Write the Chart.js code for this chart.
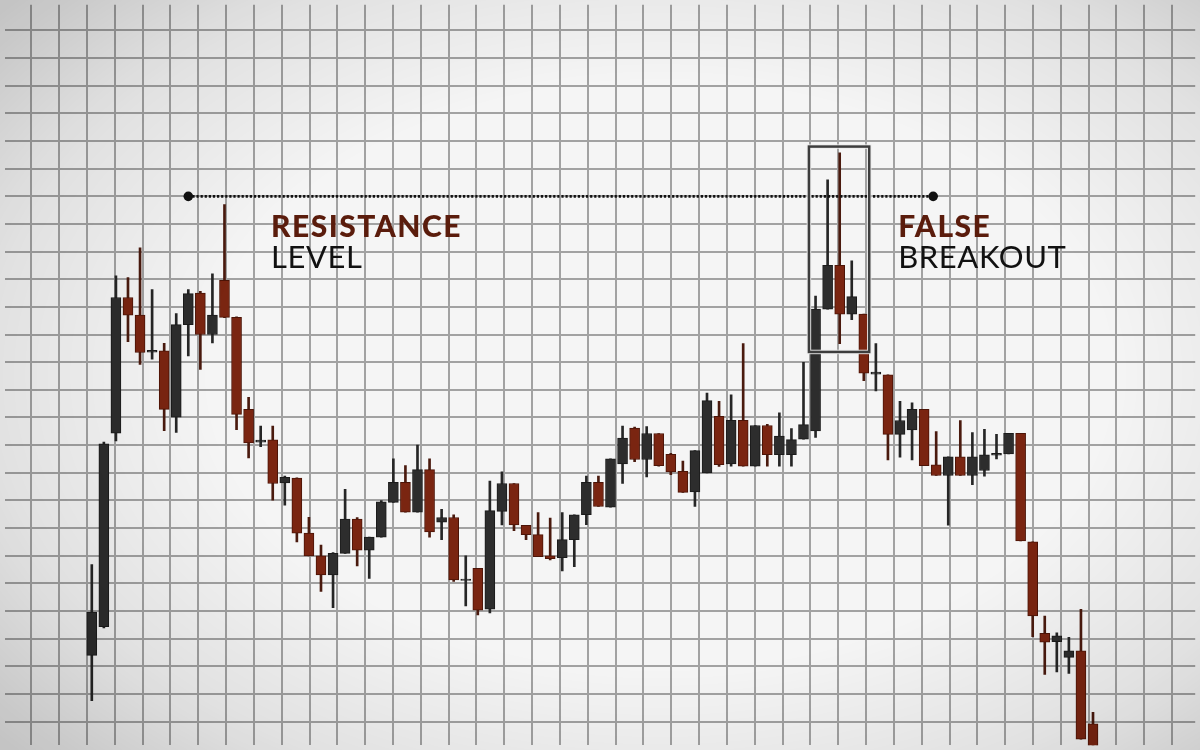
<!DOCTYPE html>
<html><head><meta charset="utf-8">
<script src="https://cdn.jsdelivr.net/npm/chart.js@4.4.1/dist/chart.umd.min.js"></script>
<style>
html,body{margin:0;padding:0;background:#f4f4f4;}
#wrap{position:relative;width:1200px;height:750px;background:#f5f5f5;overflow:hidden;}
#c{position:absolute;left:0;top:0;width:1200px;height:750px;}
#vig{position:absolute;left:0;top:0;width:1200px;height:750px;pointer-events:none;
background:radial-gradient(ellipse 72% 75% at 55% 50%, rgba(0,0,0,0) 52%, rgba(0,0,0,0.08) 78%, rgba(0,0,0,0.2) 100%);}
</style></head><body>
<div id="wrap"><canvas id="c" width="1200" height="750"></canvas><div id="vig"></div></div>
<script>
// ---- data (price units) ----
const opens = [123.9,134.3,204.3,253.4,247.0,233.6,234.1,210.1,243.6,255.0,
  240.0,259.6,246.2,212.9,201.1,201.9,186.3,188.1,168.2,159.9,
  153.0,160.8,173.2,162.0,166.7,179.3,186.5,175.7,191.1,172.1,
  173.8,151.0,155.4,140.6,176.0,186.1,171.0,167.6,159.9,159.3,
  165.8,174.8,186.5,177.5,193.2,206.2,194.8,204.2,196.7,190.5,
  183.1,189.9,210.4,193.2,209.0,192.4,207.1,196.5,196.5,202.1,
  205.1,249.2,265.0,247.4,247.4,225.7,225.4,203.9,205.5,212.9,
  192.9,189.0,195.8,189.0,190.8,196.4,196.8,204.3,165.0,131.9,
  128.9,123.2,125.6,99.2];
const highs = [156.8,201.1,261.2,260.6,271.4,256.3,236.8,247.6,256.3,255.6,
  262.0,287.0,246.4,217.3,206.9,206.9,188.8,188.2,173.9,163.8,
  161.1,184.0,173.8,166.7,179.9,195.0,192.6,200.0,195.0,176.8,
  174.8,159.9,155.4,187.0,190.3,186.1,171.0,175.6,173.6,175.6,
  174.8,188.8,188.8,195.0,206.9,206.5,206.7,204.2,197.0,194.2,
  198.0,218.8,215.8,218.2,236.7,207.1,207.5,211.7,206.0,229.9,
  253.9,296.0,305.7,266.7,247.4,236.7,225.4,215.8,215.3,212.9,
  204.9,195.8,208.9,204.5,205.7,203.9,204.3,204.3,165.0,138.1,
  132.1,130.5,140.6,103.3];
const lows = [107.5,133.9,201.5,237.4,229.2,231.1,205.2,204.6,232.3,227.4,
  237.0,246.1,205.6,195.4,199.4,180.1,178.3,165.0,159.9,147.1,
  141.2,160.8,156.3,151.8,166.7,179.3,175.7,175.7,166.7,165.8,
  150.7,141.8,138.6,139.3,171.1,169.0,165.8,159.6,158.5,154.5,
  156.0,171.2,177.8,177.5,186.1,194.0,188.5,192.4,189.3,182.9,
  177.8,189.9,192.3,192.4,192.4,192.4,192.4,192.4,192.4,202.1,
  202.8,249.2,236.7,245.4,223.3,219.6,194.6,195.6,194.6,192.6,
  189.0,171.0,189.0,185.7,188.8,195.0,196.8,165.3,130.7,117.0,
  117.9,117.4,93.6,86.1];
const closes = [139.6,200.5,253.4,247.0,233.5,234.3,212.9,243.6,254.8,240.0,
  247.0,246.2,211.1,200.8,201.8,186.1,188.3,168.1,159.9,153.0,
  160.8,173.2,162.0,166.7,179.5,186.5,175.7,191.1,168.6,173.8,
  151.2,151.5,140.3,176.3,186.1,171.1,167.6,159.6,158.9,165.8,
  174.8,186.5,177.8,195.0,202.5,194.8,204.2,192.6,190.3,182.9,
  198.0,216.1,192.9,209.0,192.4,207.1,196.5,203.3,202.0,207.4,
  249.2,265.0,247.4,253.7,226.0,226.4,203.9,208.9,212.9,192.6,
  189.0,195.8,189.0,195.8,196.5,197.0,204.3,165.3,138.2,128.7,
  131.0,125.6,93.6,86.1];

// resistance level (dotted line between two candle positions)
const resistanceLevel = 290;
const resistanceFrom = [8];
const resistanceTo = [69.75];
// false breakout box: candle range and price range
const boxCandles = [60, 64];
const boxPrices = [233.7, 308];
// annotation texts
const labelBold = ['RESISTANCE', 'FALSE'];
const labelRegular = ['LEVEL', 'BREAKOUT'];
const labelAt = [14.85, 66.85];
const labelPrice = 275.4;

// ---- styling ----
const UP = '#2d2d2d', UP_EDGE = '#1b1b1b';
const DOWN = '#7a2511', DOWN_EDGE = '#4c1407';
const isUp = opens.map((o, i) => closes[i] >= o);

const bodies = opens.map((o, i) => ({x: i, y: [o, closes[i]]}));
const wicks = opens.map((o, i) => ({x: i, y: [lows[i], highs[i]]}));

const overlay = {
  id: 'overlay',
  afterDatasetsDraw(chart) {
    const {ctx, scales: {x, y}} = chart;
    // breakout box
    const l = x.getPixelForValue(boxCandles[0] - 0.55);
    const r = x.getPixelForValue(boxCandles[1] + 0.45);
    const t = y.getPixelForValue(boxPrices[1]);
    const b = y.getPixelForValue(boxPrices[0]);
    ctx.save();
    ctx.strokeStyle = 'rgba(235,235,235,0.9)';
    ctx.lineWidth = 4.5;
    ctx.strokeRect(l, t, r - l, b - t);
    ctx.strokeStyle = '#3d3d3d';
    ctx.lineWidth = 2.5;
    ctx.strokeRect(l, t, r - l, b - t);
    // labels
    ctx.textBaseline = 'alphabetic';
    ctx.textAlign = 'left';
    for (let k = 0; k < labelBold.length; k++) {
      const px = x.getPixelForValue(labelAt[k]);
      const py = y.getPixelForValue(labelPrice);
      ctx.fillStyle = '#5a1c0c';
      ctx.font = '900 30px Lato';
      ctx.letterSpacing = '1.5px';
      ctx.fillText(labelBold[k], px, py);
      ctx.fillStyle = '#111111';
      ctx.font = '400 31px Lato';
      ctx.letterSpacing = '0.6px';
      ctx.fillText(labelRegular[k], px, py + 31.5);
    }
    ctx.restore();
  }
};

new Chart(document.getElementById('c'), {
  type: 'bar',
  data: {
    datasets: [
      {
        type: 'line',
        data: [{x: resistanceFrom[0], y: resistanceLevel}, {x: resistanceTo[0], y: resistanceLevel}],
        borderColor: '#111', borderWidth: 2.6, borderDash: [2.2, 1.9],
        pointRadius: 4.8, pointBackgroundColor: '#111', pointBorderWidth: 0,
        order: -1, xAxisID: 'x', yAxisID: 'y'
      },
      {
        data: bodies, grouped: false, barThickness: 10,
        backgroundColor: isUp.map(u => u ? UP : DOWN),
        borderColor: isUp.map(u => u ? UP_EDGE : DOWN_EDGE),
        borderWidth: 1, borderSkipped: false, order: 0,
        xAxisID: 'x', yAxisID: 'y'
      },
      {
        data: wicks, grouped: false, barThickness: 2,
        backgroundColor: isUp.map(u => u ? '#262626' : '#4a1a0e'),
        borderWidth: 0, order: 1,
        xAxisID: 'x', yAxisID: 'y'
      }
    ]
  },
  options: {
    responsive: false, animation: false,
    layout: {padding: 0},
    plugins: {legend: {display: false}, tooltip: {enabled: false}},
    scales: {
      x: {type: 'linear', display: false, offset: false, min: -7.212, max: 91.472},
      gx: {type: 'linear', position: 'bottom', offset: false, min: -0.952, max: 41.83,
        ticks: {display: false, stepSize: 1, includeBounds: false},
        grid: {color: '#a2a2a2', lineWidth: 2, drawTicks: false, offset: false},
        border: {display: false}},
      y: {type: 'linear', min: 91.43, max: 359.29, offset: false,
        ticks: {display: false, stepSize: 10, includeBounds: false},
        grid: {color: '#a2a2a2', lineWidth: 2, drawTicks: false},
        border: {display: false}}
    }
  },
  plugins: [overlay]
});
</script>
</body></html>
